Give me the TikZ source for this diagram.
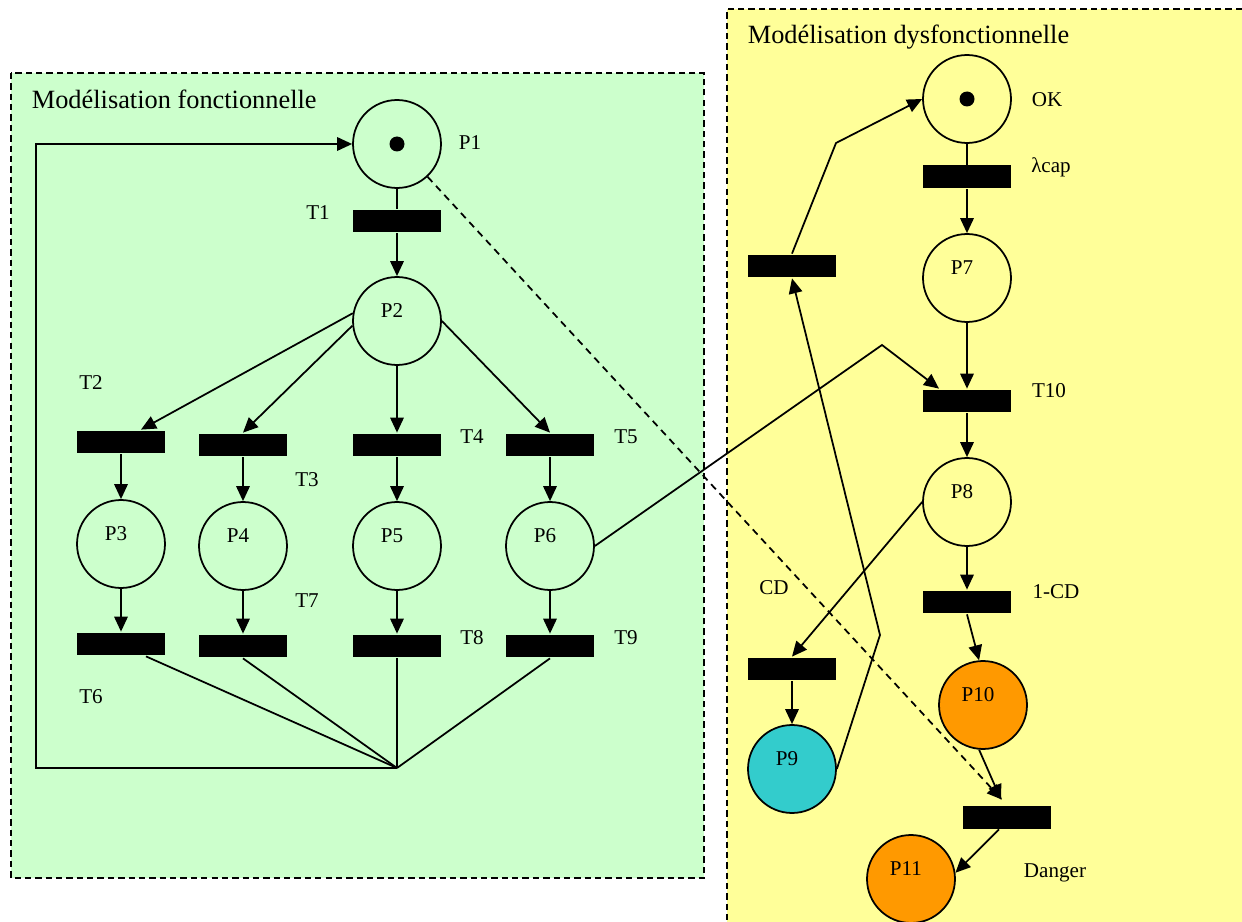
\documentclass[tikz,border=0pt]{standalone}
\usepackage{fontspec}
\setmainfont{Liberation Serif}
\usepackage{tikz}
\usetikzlibrary{arrows.meta}

\definecolor{fonctgreen}{HTML}{CCFFCC}
\definecolor{dysfyellow}{HTML}{FFFF99}
\definecolor{placecyan}{HTML}{33CCCC}
\definecolor{placeorange}{HTML}{FF9900}

\newcommand{\titlefont}{\fontsize{15}{17}\selectfont}
\newcommand{\lblfont}{\fontsize{12}{14}\selectfont}

\tikzset{
    place/.style={circle, draw, line width=1pt, minimum size=1.76cm, inner sep=0pt},
    trans/.style={rectangle, fill=black, minimum width=1.76cm, minimum height=0.46cm, inner sep=0pt},
    inlbl/.style={xshift=-0.1cm, yshift=0.2cm, font=\lblfont, inner sep=0pt},
    lbl/.style={font=\lblfont, inner sep=0pt},
    arc/.style={-{Triangle[length=0.3cm, width=0.27cm]}},
    boxline/.style={dash pattern=on 3.6pt off 2.3pt, line width=0.8pt}
}

\begin{document}
\begin{tikzpicture}[x=0.02cm, y=-0.02cm, line width=1pt]
        \useasboundingbox (0,0) rectangle (1242,922);
        \clip (0,0) rectangle (1242,922);
        \draw[boxline, fill=fonctgreen] (11,73) rectangle (704,878);
        \fill[dysfyellow] (727,9) rectangle (1242,922);
        \draw[boxline] (1242,9) -- (727,9) -- (727,922);
        \node[anchor=west, inner sep=0pt, font=\titlefont] (titlef) at (31,99) {Modélisation fonctionnelle};
        \node[anchor=west, inner sep=0pt, font=\titlefont] (titled) at (747,37) {Modélisation dysfonctionnelle};

        % functional net
        \node[place] (p1) at (397,144) {};
        \fill (p1) circle (0.15cm);
        \node[lbl] (lp1) at (470,143) {P1};
        \node[trans] (t1) at (397,221) {};
        \node[lbl] (lt1) at (318,213) {T1};
        \node[place, label={[inlbl]center:P2}] (p2) at (397,321) {};

        \node[trans] (t2) at (121,442) {};
        \node[trans] (t3) at (243,445) {};
        \node[trans] (t4) at (397,445) {};
        \node[trans] (t5) at (550,445) {};
        \node[lbl] (lt2) at (91,383) {T2};
        \node[lbl] (lt3) at (307,480) {T3};
        \node[lbl] (lt4) at (472,437) {T4};
        \node[lbl] (lt5) at (626,437) {T5};

        \node[place, label={[inlbl]center:P3}] (p3) at (121,544) {};
        \node[place, label={[inlbl]center:P4}] (p4) at (243,546) {};
        \node[place, label={[inlbl]center:P5}] (p5) at (397,546) {};
        \node[place, label={[inlbl]center:P6}] (p6) at (550,546) {};

        \node[trans] (t6) at (121,644) {};
        \node[trans] (t7) at (243,646) {};
        \node[trans] (t8) at (397,646) {};
        \node[trans] (t9) at (550,646) {};
        \node[lbl] (lt6) at (91,697) {T6};
        \node[lbl] (lt7) at (307,601) {T7};
        \node[lbl] (lt8) at (472,638) {T8};
        \node[lbl] (lt9) at (626,638) {T9};

        \coordinate (merge) at (397,768);
        \coordinate (cornerb) at (36,768);
        \coordinate (cornert) at (36,144);

        \draw (p1) -- (t1);
        \draw[arc] (t1) -- (p2);
        \draw[arc] (p2.170) -- ([xshift=0.4cm]t2.north);
        \draw[arc] (p2.186) -- (t3.north);
        \draw[arc] (p2) -- (t4);
        \draw[arc] (p2.east) -- (t5.north);
        \foreach \i/\j in {2/3, 3/4, 4/5, 5/6} {
            \draw[arc] (t\i) -- (p\j);
        }
        \foreach \i/\j in {3/6, 4/7, 5/8, 6/9} {
            \draw[arc] (p\i) -- (t\j);
        }
        \draw ([xshift=0.5cm]t6.south) -- (merge);
        \draw (t7.south) -- (merge);
        \draw (t8.south) -- (merge);
        \draw (t9.south) -- (merge);
        \draw[arc] (merge) -- (cornerb) -- (cornert) -- (p1.west);

        % dysfunctional net
        \node[place] (ok) at (967,99) {};
        \fill (ok) circle (0.15cm);
        \node[lbl] (lok) at (1047,100) {OK};
        \node[trans] (tlam) at (967,177) {};
        \node[lbl] (llam) at (1051,167) {λcap};
        \node[place, label={[inlbl]center:P7}] (p7) at (967,278) {};
        \node[trans] (t10) at (967,401) {};
        \node[lbl] (lt10) at (1049,391) {T10};
        \node[place, label={[inlbl]center:P8}] (p8) at (967,502) {};
        \node[trans] (tcd1) at (967,602) {};
        \node[lbl] (lcd1) at (1056,592) {1-CD};
        \node[trans] (tcd) at (792,669) {};
        \node[lbl] (lcd) at (774,588) {CD};
        \node[place, fill=placecyan, label={[inlbl]center:P9}] (p9) at (792,769) {};
        \node[trans] (trep) at (792,266) {};
        \node[place, fill=placeorange, label={[inlbl]center:P10}] (p10) at (983,705) {};
        \node[trans] (tdang) at (1007,817) {};
        \node[lbl] (ldang) at (1055,873) {Danger};
        \node[place, fill=placeorange, label={[inlbl]center:P11}] (p11) at (911,879) {};

        \coordinate (kok) at (836,143);
        \coordinate (kp9) at (880,635);
        \coordinate (kp6) at (882,345);

        \draw (ok) -- (tlam);
        \draw[arc] (tlam) -- (p7);
        \draw[arc] (p7) -- (t10);
        \draw[arc] (t10) -- (p8);
        \draw[arc] (p8) -- (tcd1);
        \draw[arc] (tcd1.south) -- (p10.95);
        \draw[arc] (p8.west) -- (tcd.north);
        \draw[arc] (tcd) -- (p9);
        \draw[arc] (p9.east) -- (kp9) -- (trep.south);
        \draw[arc] (trep.north) -- (kok) -- (ok.west);
        \draw[arc] (p10.265) -- ([xshift=-0.12cm, yshift=0.1cm]tdang.north);
        \draw[arc] ([xshift=-0.16cm]tdang.south) -- (p11.8);

        % links between the two nets
        \draw[arc] (p6.east) -- (kp6) -- ([xshift=-0.56cm]t10.north);
        \draw[arc, dash pattern=on 4pt off 3pt] (p1.-47) -- ([xshift=-0.1cm, yshift=0.1cm]tdang.north);
\end{tikzpicture}
\end{document}
